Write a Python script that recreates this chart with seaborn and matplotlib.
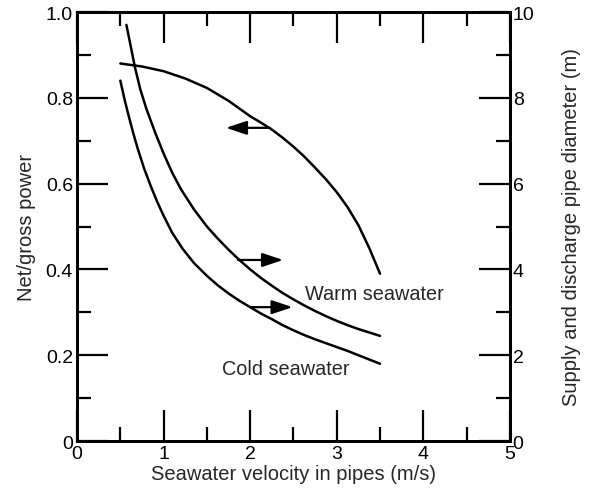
import matplotlib
matplotlib.use("Agg")
import matplotlib.pyplot as plt
from matplotlib.ticker import MultipleLocator
import seaborn as sns
import pandas as pd

# ---- data ----
power_x = [0.5, 0.75, 1.0, 1.25, 1.5, 1.75, 2.0, 2.125, 2.25, 2.375, 2.5, 2.625,
           2.75, 2.875, 3.0, 3.125, 3.25, 3.375, 3.5]
power_y = [0.88, 0.873, 0.862, 0.845, 0.823, 0.793, 0.757, 0.742, 0.726, 0.707,
           0.686, 0.663, 0.637, 0.61, 0.58, 0.545, 0.503, 0.45, 0.39]

warm_x = [0.57, 0.62, 0.67, 0.73, 0.8, 0.9, 1.0, 1.1, 1.2, 1.35, 1.5, 1.625, 1.75,
          1.875, 2.0, 2.125, 2.25, 2.375, 2.5, 2.625, 2.75, 2.875, 3.0, 3.125,
          3.25, 3.375, 3.5]
warm_y = [9.7, 9.2, 8.7, 8.2, 7.75, 7.2, 6.7, 6.25, 5.87, 5.4, 5.0, 4.72, 4.46,
          4.22, 4.0, 3.8, 3.62, 3.45, 3.3, 3.16, 3.03, 2.91, 2.8, 2.7, 2.61,
          2.53, 2.45]

cold_x = [0.5, 0.55, 0.6, 0.65, 0.7, 0.775, 0.85, 0.925, 1.0, 1.1, 1.22, 1.35, 1.5,
          1.625, 1.75, 1.875, 2.0, 2.125, 2.25, 2.375, 2.5, 2.625, 2.75, 2.875,
          3.0, 3.125, 3.25, 3.375, 3.5]
cold_y = [8.4, 7.95, 7.55, 7.17, 6.82, 6.35, 5.95, 5.58, 5.25, 4.85, 4.48, 4.15,
          3.85, 3.63, 3.44, 3.27, 3.12, 2.97, 2.84, 2.7, 2.58, 2.47, 2.37, 2.28,
          2.19, 2.1, 2.0, 1.9, 1.8]

x_ticks = [0, 1, 2, 3, 4, 5]
left_ticks = [0, 0.2, 0.4, 0.6, 0.8, 1.0]
left_labels = ["0", "0.2", "0.4", "0.6", "0.8", "1.0"]
right_ticks = [0, 2, 4, 6, 8, 10]
right_labels = ["0", "2", "4", "6", "8", "10"]

# arrows: (tail_x, head_x, y)
power_arrow = (2.23, 1.72, 0.73)
warm_arrow = (1.86, 2.38, 4.22)
cold_arrow = (2.0, 2.49, 3.12)

labels_text = ["Warm seawater", "Cold seawater"]
labels_pos = [(2.63, 3.45), (1.67, 1.7)]

# ---- style ----
sns.set_style("ticks")
plt.rcParams["font.family"] = ["Liberation Sans", "DejaVu Sans"]
plt.rcParams["font.size"] = 14

fig = plt.figure(figsize=(6.02, 4.89), dpi=100)
ax = fig.add_axes([0.128, 0.0961, 0.719, 0.8773])
ax2 = ax.twinx()

lw = 1.8
df_p = pd.DataFrame({"x": power_x, "y": power_y})
df_w = pd.DataFrame({"x": warm_x, "y": warm_y})
df_c = pd.DataFrame({"x": cold_x, "y": cold_y})

for data, a in ((df_p, ax), (df_w, ax2), (df_c, ax2)):
    sns.lineplot(data=data, x="x", y="y", ax=a, color="black", lw=lw, sort=False,
                 solid_joinstyle="round", solid_capstyle="round")

ax.set_xlim(0, 5)
ax.set_ylim(0, 1.0)
ax2.set_ylim(0, 10)

ax.set_xticks(x_ticks)
ax.set_xticklabels([str(t) for t in x_ticks])
ax.xaxis.set_minor_locator(MultipleLocator(0.5))
ax.set_yticks(left_ticks)
ax.set_yticklabels(left_labels)
ax.yaxis.set_minor_locator(MultipleLocator(0.1))
ax2.set_yticks(right_ticks)
ax2.set_yticklabels(right_labels)
ax2.yaxis.set_minor_locator(MultipleLocator(1))

ax.tick_params(axis="x", which="both", direction="in", top=True, bottom=True,
               width=1.6, colors="black", pad=3, labelsize=14)
ax.tick_params(axis="y", which="both", direction="in", left=True, right=False,
               width=1.6, colors="black", pad=3, labelsize=14)
ax2.tick_params(axis="y", which="both", direction="in", left=False, right=True,
                width=1.6, colors="black", pad=2, labelsize=14)
for a in (ax, ax2):
    a.tick_params(which="major", length=22)
    a.tick_params(which="minor", length=10)
    for s in a.spines.values():
        s.set_visible(True)
        s.set_linewidth(2)
        s.set_color("black")

ax.set_xlabel("Seawater velocity in pipes (m/s)", labelpad=1, fontsize=14.5)
ax.set_ylabel("Net/gross power", labelpad=7, fontsize=14.5)
ax2.set_ylabel("Supply and discharge pipe diameter (m)", labelpad=20, fontsize=14.5)

arrow_props = dict(arrowstyle="-|>,head_length=0.9,head_width=0.3", color="black",
                   lw=1.6, shrinkA=0, shrinkB=0)
ax.annotate("", xy=(power_arrow[1], power_arrow[2]), xytext=(power_arrow[0], power_arrow[2]),
            arrowprops=arrow_props)
ax2.annotate("", xy=(warm_arrow[1], warm_arrow[2]), xytext=(warm_arrow[0], warm_arrow[2]),
             arrowprops=arrow_props)
ax2.annotate("", xy=(cold_arrow[1], cold_arrow[2]), xytext=(cold_arrow[0], cold_arrow[2]),
             arrowprops=arrow_props)

for t, (px, py) in zip(labels_text, labels_pos):
    ax2.text(px, py, t, ha="left", va="center", fontsize=14.3)

fig.savefig("out.png", dpi=100, facecolor="white")
